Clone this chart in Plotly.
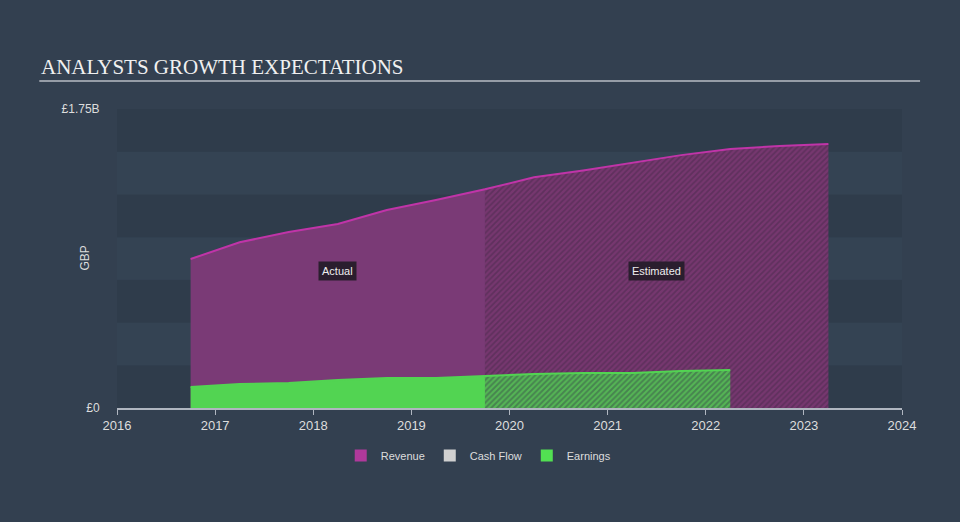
import plotly.graph_objects as go

# data (GBP, billions)
years = [2016.75, 2017.25, 2017.75, 2018.25, 2018.75, 2019.25, 2019.75,
         2020.25, 2020.75, 2021.25, 2021.75, 2022.25, 2022.75, 2023.25]
revenue = [0.872, 0.970, 1.030, 1.077, 1.159, 1.217, 1.280,
           1.350, 1.390, 1.434, 1.480, 1.516, 1.533, 1.545]
earn_years = [2016.75, 2017.25, 2017.75, 2018.25, 2018.75, 2019.25, 2019.75,
              2020.25, 2020.75, 2021.25, 2021.75, 2022.25]
earnings = [0.123, 0.140, 0.146, 0.164, 0.176, 0.176, 0.187,
            0.199, 0.205, 0.205, 0.217, 0.222]
split_year = 2019.75
x_ticks = [2016, 2017, 2018, 2019, 2020, 2021, 2022, 2023, 2024]
band_edges = [0, 0.25, 0.5, 0.75, 1.0, 1.25, 1.5, 1.75]

BG = "#334050"
REV_LINE = "#c034a8"
REV_FILL = "#7a3a76"
EARN = "#52d452"


def split(xs, ys, cut):
    a = [(x, y) for x, y in zip(xs, ys) if x <= cut]
    b = [(x, y) for x, y in zip(xs, ys) if x >= cut]
    return [p[0] for p in a], [p[1] for p in a], [p[0] for p in b], [p[1] for p in b]


rx_a, ry_a, rx_e, ry_e = split(years, revenue, split_year)
ex_a, ey_a, ex_e, ey_e = split(earn_years, earnings, split_year)

fig = go.Figure()

# revenue actual
fig.add_trace(go.Scatter(x=rx_a, y=ry_a, mode="lines", fill="tozeroy",
                         line=dict(color=REV_LINE, width=2), fillcolor=REV_FILL,
                         showlegend=False, hoverinfo="skip"))
# revenue estimated (hatched)
fig.add_trace(go.Scatter(x=rx_e, y=ry_e, mode="lines", fill="tozeroy",
                         line=dict(color=REV_LINE, width=2),
                         fillpattern=dict(shape="/", fgcolor="#472a4c", bgcolor="#76376f",
                                          size=4, solidity=0.45),
                         showlegend=False, hoverinfo="skip"))
# earnings actual
fig.add_trace(go.Scatter(x=ex_a, y=ey_a, mode="lines", fill="tozeroy",
                         line=dict(color=EARN, width=2), fillcolor=EARN,
                         showlegend=False, hoverinfo="skip"))
# earnings estimated (hatched)
fig.add_trace(go.Scatter(x=ex_e, y=ey_e, mode="lines", fill="tozeroy",
                         line=dict(color=EARN, width=2),
                         fillpattern=dict(shape="/", fgcolor="#39524a", bgcolor="#55b655",
                                          size=4, solidity=0.5),
                         showlegend=False, hoverinfo="skip"))

# legend entries
for name, col in [("Revenue", "#b0399b"), ("Cash Flow", "#d0d0d0"), ("Earnings", "#52e052")]:
    fig.add_trace(go.Scatter(x=[None], y=[None], mode="markers", name=name,
                             marker=dict(symbol="square", size=12, color=col)))

# alternating background bands
shapes = []
for i in range(len(band_edges) - 1):
    shapes.append(dict(type="rect", xref="paper", yref="y", x0=0, x1=1,
                       y0=band_edges[i], y1=band_edges[i + 1], layer="below", line_width=0,
                       fillcolor="#2f3c4b" if i % 2 == 0 else "#344353"))
# title underline
shapes.append(dict(type="line", xref="paper", yref="paper", x0=-0.099, x1=1.023,
                   y0=1.0 + 28 / 299, y1=1.0 + 28 / 299, line=dict(color="#b8bcc4", width=1.5)))

fig.update_layout(
    width=960, height=522,
    paper_bgcolor=BG, plot_bgcolor=BG,
    margin=dict(l=117, r=58, t=109, b=114),
    shapes=shapes,
    font=dict(family="Liberation Sans, Arial", color="#dddddd", size=12),
    xaxis=dict(range=[2016, 2024], tickvals=x_ticks, ticks="outside", ticklen=5,
               tickcolor="#b0b6c0", showline=True, linecolor="#b0b6c0", linewidth=1.5,
               showgrid=False, zeroline=False, tickfont=dict(size=13, color="#dddddd")),
    yaxis=dict(range=[0, 1.75], tickvals=[0, 1.75], ticktext=["£0", "£1.75B"],
               showgrid=False, zeroline=False, ticks="outside", ticklen=14,
               tickcolor="rgba(0,0,0,0)", tickfont=dict(size=12, color="#dddddd")),
    legend=dict(orientation="h", x=0.285, xanchor="left", y=-0.11, yanchor="top",
                font=dict(size=11, color="#dddddd"), bgcolor="rgba(0,0,0,0)"),
    annotations=[
        dict(text="ANALYSTS GROWTH EXPECTATIONS", xref="paper", yref="paper",
             x=-0.099, y=1.0 + 42 / 299, xanchor="left", yanchor="middle", showarrow=False,
             font=dict(family="Liberation Serif, Times New Roman", size=21, color="#f0f0f0")),
        dict(text="GBP", xref="paper", yref="paper", x=-0.042, y=0.5, textangle=-90,
             xanchor="center", yanchor="middle",
             showarrow=False, font=dict(size=12, color="#dddddd")),
        dict(text="Actual", x=2018.25, y=0.80, showarrow=False, bgcolor="#2a1e2e",
             font=dict(size=11, color="#eeeeee"), borderpad=3),
        dict(text="Estimated", x=2021.5, y=0.80, showarrow=False, bgcolor="#2a1e2e",
             font=dict(size=11, color="#eeeeee"), borderpad=3),
    ],
)

fig.write_html("out.html", config={"displayModeBar": False},
               post_script="document.body.style.margin='0';")
